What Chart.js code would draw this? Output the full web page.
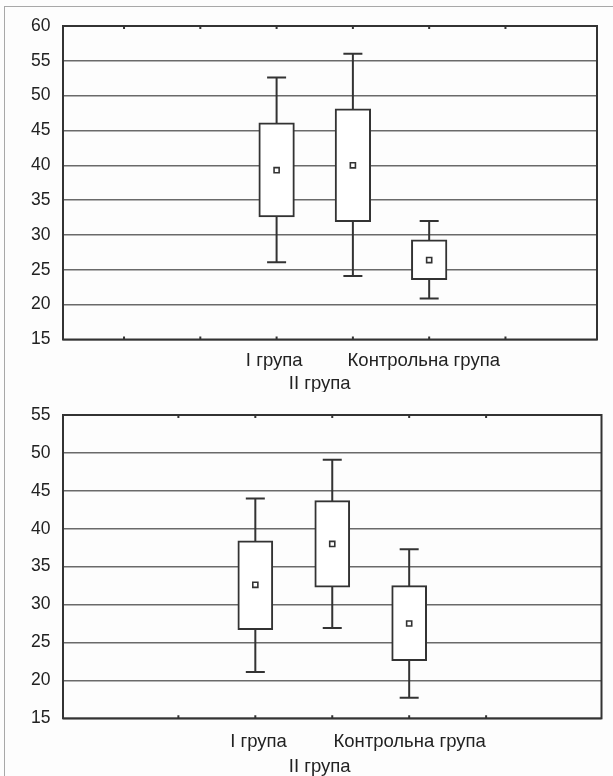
<!DOCTYPE html>
<html lang="uk">
<head>
<meta charset="UTF-8">
<title>Box plots</title>
<script src="https://cdn.jsdelivr.net/npm/chart.js"></script>
<style>
  html, body { margin: 0; padding: 0; background: #fff; }
  #page { position: relative; width: 613px; height: 776px; overflow: hidden; background: #fdfdfd; }
  #frame { position: absolute; left: 4px; top: 6px; width: 640px; height: 800px; border-top: 1.5px solid #a8a8a8; border-left: 1.5px solid #a8a8a8; }
  canvas { position: absolute; left: 0; }
  #c1 { top: 0; }
  #c2 { top: 392px; }
</style>
</head>
<body>
<div id="page">
  <div id="frame"></div>
  <canvas id="c1" width="613" height="392"></canvas>
  <canvas id="c2" width="613" height="384"></canvas>
</div>
<script>
// groups and their positions on the x axis
const categories = ['I група', 'II група', 'Контрольна група'];
const catX = [2, 3, 4];

// upper chart
const whiskerLow1 = [26.1, 24.1, 20.9];
const boxLow1 = [32.6, 31.9, 23.6];
const mean1 = [39.3, 40.0, 26.4];
const boxHigh1 = [46.1, 48.1, 29.3];
const whiskerHigh1 = [52.6, 56.0, 32.0];
const xTicks1 = [0, 1, 2, 3, 4, 5];

// lower chart
const whiskerLow2 = [21.1, 26.9, 17.7];
const boxLow2 = [26.7, 32.3, 22.6];
const mean2 = [32.6, 38.0, 27.5];
const boxHigh2 = [38.4, 43.7, 32.5];
const whiskerHigh2 = [44.0, 49.1, 37.3];
const xTicks2 = [1, 2, 3, 4, 5];

const INK = '#333';
const FONT = '"Liberation Sans", Arial, sans-serif';

// frame, inner x ticks and the group labels
const boxFrame = {
    id: 'boxFrame',
    afterDraw(chart, args, opts) {
        const { ctx, chartArea: a } = chart;
        const x = chart.scales.x;
        ctx.save();
        ctx.strokeStyle = INK;
        ctx.lineWidth = 2;
        ctx.strokeRect(a.left, a.top, a.right - a.left, a.bottom - a.top);
        opts.ticks.forEach(t => {
            const px = x.getPixelForValue(t);
            ctx.beginPath();
            ctx.moveTo(px, a.top); ctx.lineTo(px, a.top + 3);
            ctx.moveTo(px, a.bottom); ctx.lineTo(px, a.bottom - 3);
            ctx.stroke();
        });
        ctx.fillStyle = '#222';
        ctx.font = '18.5px ' + FONT;
        ctx.textAlign = 'center';
        ctx.textBaseline = 'alphabetic';
        categories.forEach((c, i) => {
            const px = x.getPixelForValue(catX[i]) + opts.shift[i];
            const py = a.bottom + (i === 1 ? opts.row2 : opts.row1);
            ctx.fillText(c, px, py);
        });
        ctx.restore();
    }
};

function makeChart(id, lo, q1, m, q3, hi, ticks, xmin, xmax, ymin, ymax, pad, boxW, shift, row1, row2) {
    const whiskers = categories.map((c, i) => ({
        type: 'line',
        data: [{ x: catX[i], y: lo[i] }, { x: catX[i], y: hi[i] }],
        borderColor: INK,
        borderWidth: 2,
        pointRadius: 0,
        order: 3
    }));
    return new Chart(document.getElementById(id), {
        type: 'bar',
        data: {
            datasets: [
                ...whiskers,
                {
                    type: 'bar',
                    data: catX.map((x, i) => ({ x: x, y: [q1[i], q3[i]] })),
                    backgroundColor: '#fff',
                    borderColor: INK,
                    borderWidth: 2,
                    borderSkipped: false,
                    barThickness: boxW,
                    grouped: false,
                    order: 2
                },
                {
                    type: 'scatter',
                    data: catX.flatMap((x, i) => [{ x: x, y: lo[i] }, { x: x, y: hi[i] }]),
                    pointStyle: 'line',
                    pointRadius: 9.5,
                    borderColor: INK,
                    borderWidth: 2,
                    order: 1
                },
                {
                    type: 'scatter',
                    data: catX.map((x, i) => ({ x: x, y: m[i] })),
                    pointStyle: 'rect',
                    pointRadius: 3.6,
                    backgroundColor: '#fff',
                    borderColor: INK,
                    borderWidth: 1.6,
                    order: 0
                }
            ]
        },
        options: {
            responsive: false,
            animation: false,
            events: [],
            layout: { padding: pad },
            plugins: {
                legend: { display: false },
                tooltip: { enabled: false },
                boxFrame: { ticks: ticks, shift: shift, row1: row1, row2: row2 }
            },
            scales: {
                x: { type: 'linear', min: xmin, max: xmax, display: false },
                y: {
                    min: ymin, max: ymax,
                    afterFit: s => { s.width = 63; },
                    border: { display: false },
                    grid: { color: '#6a6a6a', lineWidth: 1.5, drawTicks: false },
                    ticks: { stepSize: 5, padding: 12.5, color: '#222', font: { family: FONT, size: 17.5 } }
                }
            }
        },
        plugins: [boxFrame]
    });
}

makeChart('c1', whiskerLow1, boxLow1, mean1, boxHigh1, whiskerHigh1, xTicks1,
    -0.3, 5.7, 15, 60, { top: 26, right: 16, bottom: 52.5, left: 0 }, 35.6, [-2.4, -33.2, -5.4], 26.5, 49);
makeChart('c2', whiskerLow2, boxLow2, mean2, boxHigh2, whiskerHigh2, xTicks2,
    0, 6, 15, 55, { top: 12.8, right: 9.5, bottom: 57.7, left: 0 }, 35, [3.2, -12.5, 0.4], 28.7, 53.5);
</script>
</body>
</html>
